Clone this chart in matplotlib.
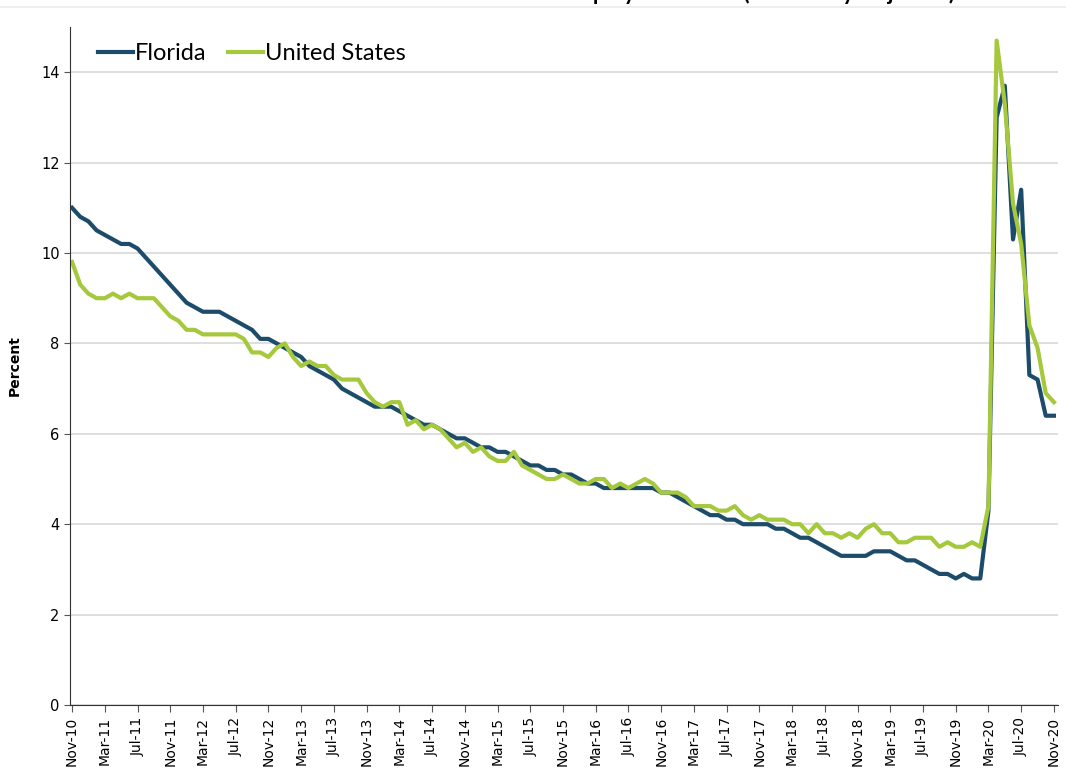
import numpy as np
import matplotlib
matplotlib.use("Agg")
import matplotlib.pyplot as plt

# monthly, Nov-10 .. Nov-20
months = ["Nov", "Dec", "Jan", "Feb", "Mar", "Apr", "May", "Jun", "Jul", "Aug", "Sep", "Oct"]
start_year = 10
n_months = 121

florida = [11.0, 10.8,
           10.7, 10.5, 10.4, 10.3, 10.2, 10.2, 10.1, 9.9, 9.7, 9.5, 9.3, 9.1,
           8.9, 8.8, 8.7, 8.7, 8.7, 8.6, 8.5, 8.4, 8.3, 8.1, 8.1, 8.0,
           7.9, 7.8, 7.7, 7.5, 7.4, 7.3, 7.2, 7.0, 6.9, 6.8, 6.7, 6.6,
           6.6, 6.6, 6.5, 6.4, 6.3, 6.2, 6.2, 6.1, 6.0, 5.9, 5.9, 5.8,
           5.7, 5.7, 5.6, 5.6, 5.5, 5.4, 5.3, 5.3, 5.2, 5.2, 5.1, 5.1,
           5.0, 4.9, 4.9, 4.8, 4.8, 4.8, 4.8, 4.8, 4.8, 4.8, 4.7, 4.7,
           4.6, 4.5, 4.4, 4.3, 4.2, 4.2, 4.1, 4.1, 4.0, 4.0, 4.0, 4.0,
           3.9, 3.9, 3.8, 3.7, 3.7, 3.6, 3.5, 3.4, 3.3, 3.3, 3.3, 3.3,
           3.4, 3.4, 3.4, 3.3, 3.2, 3.2, 3.1, 3.0, 2.9, 2.9, 2.8, 2.9,
           2.8, 2.8, 4.3, 13.0, 13.7, 10.3, 11.4, 7.3, 7.2, 6.4, 6.4]

united_states = [9.8, 9.3,
                 9.1, 9.0, 9.0, 9.1, 9.0, 9.1, 9.0, 9.0, 9.0, 8.8, 8.6, 8.5,
                 8.3, 8.3, 8.2, 8.2, 8.2, 8.2, 8.2, 8.1, 7.8, 7.8, 7.7, 7.9,
                 8.0, 7.7, 7.5, 7.6, 7.5, 7.5, 7.3, 7.2, 7.2, 7.2, 6.9, 6.7,
                 6.6, 6.7, 6.7, 6.2, 6.3, 6.1, 6.2, 6.1, 5.9, 5.7, 5.8, 5.6,
                 5.7, 5.5, 5.4, 5.4, 5.6, 5.3, 5.2, 5.1, 5.0, 5.0, 5.1, 5.0,
                 4.9, 4.9, 5.0, 5.0, 4.8, 4.9, 4.8, 4.9, 5.0, 4.9, 4.7, 4.7,
                 4.7, 4.6, 4.4, 4.4, 4.4, 4.3, 4.3, 4.4, 4.2, 4.1, 4.2, 4.1,
                 4.1, 4.1, 4.0, 4.0, 3.8, 4.0, 3.8, 3.8, 3.7, 3.8, 3.7, 3.9,
                 4.0, 3.8, 3.8, 3.6, 3.6, 3.7, 3.7, 3.7, 3.5, 3.6, 3.5, 3.5,
                 3.6, 3.5, 4.4, 14.7, 13.3, 11.1, 10.2, 8.4, 7.9, 6.9, 6.7]

# tick labels every 4 months
tick_pos = list(range(0, n_months, 4))
tick_labels = []
for p in tick_pos:
    m = months[p % 12]
    yr = start_year + (p + 10) // 12
    tick_labels.append("%s-%02d" % (m, yr))

x = np.arange(n_months)

fl_color = "#1d4c6b"
us_color = "#a5c83c"

fig = plt.figure(figsize=(10.66, 7.76), dpi=100)
ax = fig.add_axes([70/1066, 1-705/776, 988/1066, 678/776])

ax.plot(x, florida, color=fl_color, lw=3.0, label="Florida", solid_joinstyle="round")
ax.plot(x, united_states, color=us_color, lw=3.0, label="United States", solid_joinstyle="round")

ax.set_xlim(-0.25, 120.5)
ax.set_ylim(0, 15)
ax.set_yticks(np.arange(0, 15, 2))
ax.set_xticks(tick_pos)
ax.set_xticklabels(tick_labels, rotation=90, fontsize=10)
ax.tick_params(axis="y", labelsize=10.5, length=4, color="#555555")
ax.tick_params(axis="x", length=5, color="#555555")
ax.grid(axis="y", color="#d9d9d9", lw=1.2)
ax.set_axisbelow(True)
for s in ["top", "right"]:
    ax.spines[s].set_visible(False)
ax.spines["left"].set_color("#333333")
ax.spines["bottom"].set_color("#333333")

ax.set_ylabel("Percent", fontweight="bold", fontsize=10, labelpad=14)

leg = ax.legend(loc="upper left", bbox_to_anchor=(0.028, 0.976), ncol=2, frameon=False,
                prop={"family": "Lato", "size": 17}, handlelength=1.48, handletextpad=0.08,
                columnspacing=0.95, borderpad=0, borderaxespad=0)

# title is cut off at top of the image
fig.text(955/1066, 1.0, "Florida and U.S. Unemployment Rate (Seasonally Adjusted)",
         ha="right", va="baseline", fontsize=16, fontweight="bold", family="Lato")
fig.add_artist(plt.Line2D([0, 1], [1-7/776, 1-7/776], color="#eeeeee", lw=1.5))

fig.savefig("out.png", dpi=100)
